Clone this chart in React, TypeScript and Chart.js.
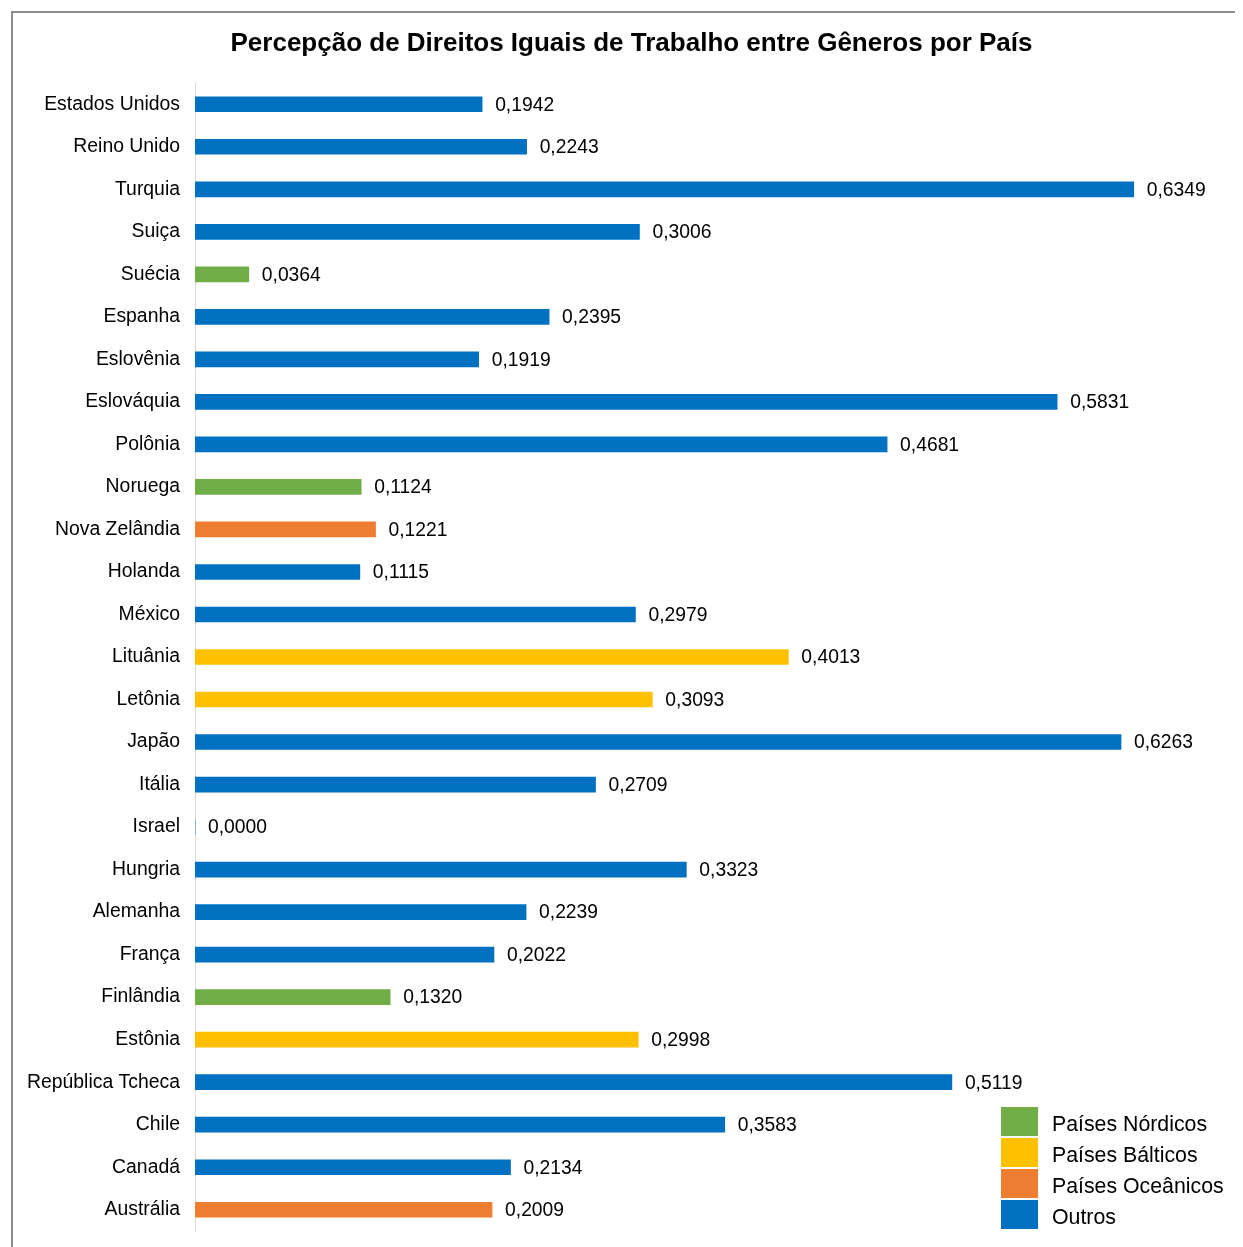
import React, { useEffect, useRef } from "react";
import { Chart, registerables } from "chart.js";

Chart.register(...registerables);

const chartTitle = "Percepção de Direitos Iguais de Trabalho entre Gêneros por País";

const countries = [
  "Estados Unidos", "Reino Unido", "Turquia", "Suiça", "Suécia", "Espanha", "Eslovênia",
  "Eslováquia", "Polônia", "Noruega", "Nova Zelândia", "Holanda", "México", "Lituânia",
  "Letônia", "Japão", "Itália", "Israel", "Hungria", "Alemanha", "França", "Finlândia",
  "Estônia", "República Tcheca", "Chile", "Canadá", "Austrália",
];

const values = [
  0.1942, 0.2243, 0.6349, 0.3006, 0.0364, 0.2395, 0.1919,
  0.5831, 0.4681, 0.1124, 0.1221, 0.1115, 0.2979, 0.4013,
  0.3093, 0.6263, 0.2709, 0.0, 0.3323, 0.2239, 0.2022, 0.132,
  0.2998, 0.5119, 0.3583, 0.2134, 0.2009,
];

const groups = [
  "Outros", "Outros", "Outros", "Outros", "Nórdicos", "Outros", "Outros",
  "Outros", "Outros", "Nórdicos", "Oceânicos", "Outros", "Outros", "Bálticos",
  "Bálticos", "Outros", "Outros", "Outros", "Outros", "Outros", "Outros", "Nórdicos",
  "Bálticos", "Outros", "Outros", "Outros", "Oceânicos",
];

const legendKeys = ["Nórdicos", "Bálticos", "Oceânicos", "Outros"];
const legendLabels = ["Países Nórdicos", "Países Bálticos", "Países Oceânicos", "Outros"];
const legendColors = ["#70AD47", "#FFC000", "#ED7D31", "#0070C0"];

const FONT = "'Liberation Sans', Arial, sans-serif";

const valueLabelPlugin = {
  id: "valueLabels",
  afterDatasetsDraw(chart: any) {
    const ctx = chart.ctx;
    const meta = chart.getDatasetMeta(0);
    ctx.save();
    ctx.font = `19.3px ${FONT}`;
    ctx.fillStyle = "#000";
    ctx.textAlign = "left";
    ctx.textBaseline = "middle";
    meta.data.forEach((bar: any, i: number) => {
      const txt = values[i].toFixed(4).replace(".", ",");
      ctx.fillText(txt, bar.x + 13, bar.y + 1);
    });
    ctx.font = `bold 26px ${FONT}`;
    ctx.textAlign = "center";
    ctx.fillText(chartTitle, 618.5, 30.5);
    ctx.restore();
  },
};

export default function App() {
  const ref = useRef<HTMLCanvasElement>(null);
  useEffect(() => {
    if (!ref.current) return;
    const colors = groups.map((g) => legendColors[legendKeys.indexOf(g)]);
    const chart = new Chart(ref.current, {
      type: "bar",
      data: {
        labels: countries,
        datasets: [
          {
            data: values,
            backgroundColor: colors,
            barThickness: 15,
          },
        ],
      },
      options: {
        indexAxis: "y",
        animation: false,
        responsive: false,
        maintainAspectRatio: false,
        layout: { padding: { top: 70, right: 13, bottom: 16, left: 0 } },
        plugins: {
          legend: { display: false },
          tooltip: { enabled: false },
          title: { display: false },
        },
        scales: {
          x: { display: false, min: 0, max: 0.7 },
          y: {
            afterFit(scale: any) {
              scale.width = 182;
              scale.paddingTop = 0;
              scale.paddingBottom = 0;
            },
            grid: { display: false },
            border: { display: true, color: "#d9d9d9", width: 1 },
            ticks: {
              color: "#000",
              padding: 7,
              font: { family: FONT, size: 19.4 },
              autoSkip: false,
            },
          },
        },
      },
      plugins: [valueLabelPlugin],
    });
    return () => chart.destroy();
  }, []);

  return (
    <div
      style={{
        position: "relative",
        marginLeft: 3,
        marginTop: 3,
        width: 1240,
        height: 1245,
        borderLeft: "2px solid #8c8c8c",
        borderTop: "2px solid #8c8c8c",
        background: "#fff",
        boxSizing: "border-box",
      }}
    >
      <canvas ref={ref} width={1230} height={1234} style={{ display: "block" }} />
      <div
        style={{
          position: "absolute",
          left: 988,
          top: 1093,
          fontFamily: FONT,
          fontSize: 21.3,
          color: "#000",
        }}
      >
        {legendLabels.map((l, i) => (
          <div key={l} style={{ display: "flex", alignItems: "center", height: 31 }}>
            <div style={{ width: 37, height: 29, background: legendColors[i], marginRight: 14 }} />
            <span style={{ position: "relative", top: 3 }}>{l}</span>
          </div>
        ))}
      </div>
    </div>
  );
}
